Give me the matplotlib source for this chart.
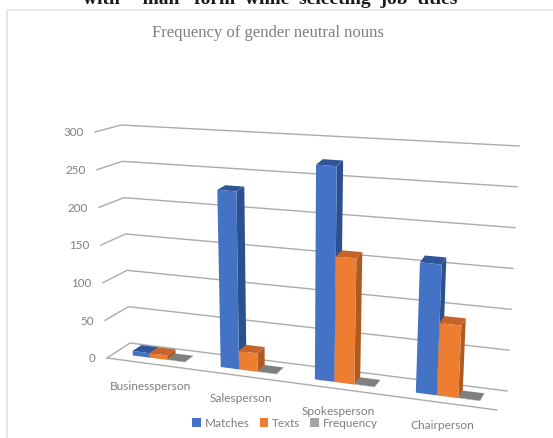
import numpy as np
import matplotlib
matplotlib.use("Agg")
import matplotlib.pyplot as plt
from matplotlib.patches import Polygon, Rectangle

# Chart content
categories = ["Businessperson", "Salesperson", "Spokesperson", "Chairperson"]
matches = [6, 232, 275, 163]
texts = [6, 24, 160, 90]
frequency = [0.5, 0.5, 0.5, 0.5]
y_ticks = [0, 50, 100, 150, 200, 250, 300]
series_names = ["Matches", "Texts", "Frequency"]
chart_title = "Frequency of gender neutral nouns"
clipped_heading = "with  \u2018-man\u2019  form  while  selecting  job  titles"

# Face colours for each series: front, side, top
front_colors = ["#4472C4", "#ED7D31", "#A5A5A5"]
side_colors = ["#2C4F8F", "#AE5A21", "#777777"]
top_colors = ["#2F5597", "#C4642A", "#7F7F7F"]
TEXT_GRAY = "#7F7F7F"
GRID_GRAY = "#ABABAB"

W, H = 553, 439
Y_MAX = 300

# Box corners of the 3D plot volume, in figure pixels
FL0, FL1 = np.array([107, 359.0]), np.array([95, 133.0])
BL0, BL1 = np.array([130, 344.0]), np.array([121, 126.0])
BR0, BR1 = np.array([507, 392.0]), np.array([519, 147.0])
FR0, FR1 = np.array([497, 411.0]), np.array([510, 167.0])
WARP = 1.15


def project(u, value, depth):
    """Map category position u (0-1), value and depth (0 front, 1 back) to pixels."""
    s = u / (u + WARP * (1 - u))
    v = value / Y_MAX
    front0 = FL0 + (FR0 - FL0) * s
    front1 = FL1 + (FR1 - FL1) * s
    back0 = BL0 + (BR0 - BL0) * s
    back1 = BL1 + (BR1 - BL1) * s
    bottom = front0 + (back0 - front0) * depth
    top = front1 + (back1 - front1) * depth
    return bottom + (top - bottom) * v


def draw_bar(ax, u0, u1, value, colors, d0=0.33, d1=0.72):
    front, side, top = colors
    p = lambda u, v, d: project(u, v, d)
    ax.add_patch(Polygon([p(u1, 0, d0), p(u1, 0, d1), p(u1, value, d1), p(u1, value, d0)],
                         fc=side, ec="none", zorder=3))
    ax.add_patch(Polygon([p(u0, value, d0), p(u1, value, d0), p(u1, value, d1), p(u0, value, d1)],
                         fc=top, ec="none", zorder=3))
    ax.add_patch(Polygon([p(u0, 0, d0), p(u1, 0, d0), p(u1, value, d0), p(u0, value, d0)],
                         fc=front, ec="none", zorder=3))


plt.rcParams["font.family"] = ["Lato", "DejaVu Sans"]
fig = plt.figure(figsize=(W / 100, H / 100), dpi=100)
ax = fig.add_axes([0, 0, 1, 1])
ax.set_xlim(0, W)
ax.set_ylim(H, 0)
ax.axis("off")

# Chart frame: open on the right and cut off by the lower edge
ax.plot([6.5, 6.5, W], [438, 10.5, 10.5], color="#E6E6E6", lw=1.4, zorder=1)

# Heading of the surrounding page, mostly cut off by the top edge
ax.text(270, 3.5, clipped_heading, family="Liberation Serif", weight="bold", fontsize=14,
        color="#1A1A1A", ha="center", va="baseline", zorder=2)

ax.text(267.5, 33, chart_title, family="Liberation Serif", fontsize=12,
        color=TEXT_GRAY, ha="center", va="center", zorder=2)

# Gridlines run along the side wall and the back wall
for tick in y_ticks:
    pts = np.array([project(0, tick, 0), project(0, tick, 1), project(1, tick, 1)])
    ax.plot(pts[:, 0], pts[:, 1], color=GRID_GRAY, lw=1.0, zorder=2)
    ax.text(pts[0, 0] - 11.5, pts[0, 1], str(tick), color=TEXT_GRAY, fontsize=8.4,
            ha="right", va="center", zorder=4)

# Front edge of the floor
floor = np.array([project(0, 0, 0), project(1, 0, 0)])
ax.plot(floor[:, 0], floor[:, 1], color=GRID_GRAY, lw=1.0, zorder=2)

# Clustered bars, one cluster per category
BAR_W = 0.05
CLUSTER_SHIFT = 0.004
values_by_series = [matches, texts, frequency]
for i, name in enumerate(categories):
    centre = (i + 0.5) / len(categories)
    for j, series in enumerate(values_by_series):
        u0 = centre + CLUSTER_SHIFT + (j - 1.5) * BAR_W
        draw_bar(ax, u0, u0 + BAR_W, series[i],
                 (front_colors[j], side_colors[j], top_colors[j]))
    lx, ly = project(centre, 0, 0)
    ax.text(lx, ly + 21.5, name, color=TEXT_GRAY, fontsize=8.6, ha="center", va="center", zorder=4)

# Legend along the bottom
handles = [Rectangle((0, 0), 1, 1, fc=c, ec="none") for c in front_colors]
ax.legend(handles, series_names, loc="center", bbox_to_anchor=(285, 424),
          bbox_transform=ax.transData, ncol=3, frameon=False, fontsize=8.5,
          labelcolor=TEXT_GRAY, handlelength=0.75, handleheight=0.75,
          handletextpad=0.3, columnspacing=0.85, borderpad=0, borderaxespad=0)

fig.savefig("out.png", dpi=100)
